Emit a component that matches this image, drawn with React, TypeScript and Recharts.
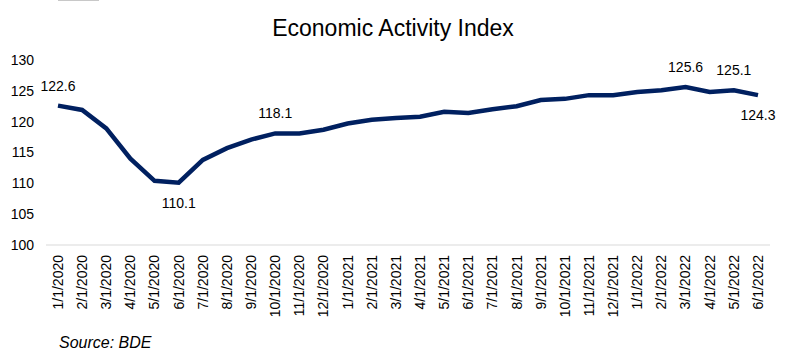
import { LineChart, Line, XAxis, YAxis, LabelList } from 'recharts';

const months = [
  '1/1/2020', '2/1/2020', '3/1/2020', '4/1/2020', '5/1/2020', '6/1/2020',
  '7/1/2020', '8/1/2020', '9/1/2020', '10/1/2020', '11/1/2020', '12/1/2020',
  '1/1/2021', '2/1/2021', '3/1/2021', '4/1/2021', '5/1/2021', '6/1/2021',
  '7/1/2021', '8/1/2021', '9/1/2021', '10/1/2021', '11/1/2021', '12/1/2021',
  '1/1/2022', '2/1/2022', '3/1/2022', '4/1/2022', '5/1/2022', '6/1/2022',
];

const activityIndex = [
  122.6, 121.9, 118.9, 114.0, 110.4, 110.1,
  113.8, 115.7, 117.1, 118.1, 118.1, 118.7,
  119.7, 120.3, 120.6, 120.8, 121.6, 121.4,
  122.0, 122.5, 123.5, 123.7, 124.3, 124.3,
  124.8, 125.1, 125.6, 124.8, 125.1, 124.3,
];

const yTicks = [100, 105, 110, 115, 120, 125, 130];

// which points get a value label, and on which side of the line
const labelAbove = ['1/1/2020', '10/1/2020', '3/1/2022', '5/1/2022'];
const labelBelow = ['6/1/2020', '6/1/2022'];

const data = months.map((month, i) => ({ month, value: activityIndex[i] }));

const FONT = '"Liberation Sans", Arial, sans-serif';

const MonthTick = ({ x, y, payload }: any) => (
  <text
    x={0}
    y={0}
    transform={`translate(${x},${y}) rotate(-90)`}
    textAnchor="end"
    dy="0.35em"
    fontSize={14}
    fontFamily={FONT}
    fill="#000"
  >
    {payload.value}
  </text>
);

const PointLabel = ({ x, y, index, value }: any) => {
  const month = months[index];
  let dy = 0;
  if (labelAbove.includes(month)) dy = -15;
  else if (labelBelow.includes(month)) dy = 25;
  else return null;
  return (
    <text x={x} y={y + dy} textAnchor="middle" fontSize={14} fontFamily={FONT} fill="#000">
      {Number(value).toFixed(1)}
    </text>
  );
};

export default function App() {
  return (
    <div style={{ position: 'absolute', left: 0, top: 0, width: 785, height: 356, background: '#fff' }}>
      <div style={{ position: 'absolute', left: 58, top: 0, width: 41, height: 1, background: '#c8c8c8' }} />
      <LineChart width={785} height={356} data={data} margin={{ top: 60, right: 15, bottom: 0, left: 0 }}>
        <XAxis
          dataKey="month"
          interval={0}
          height={111}
          tick={<MonthTick />}
          tickLine={false}
          tickSize={0}
          tickMargin={10}
          axisLine={{ stroke: '#d9d9d9', strokeWidth: 1 }}
          padding={{ left: 12, right: 12 }}
        />
        <YAxis
          width={46}
          domain={[100, 130]}
          ticks={yTicks}
          interval={0}
          axisLine={false}
          tickLine={false}
          tickSize={0}
          tickMargin={12}
          tick={{ fontSize: 14, fontFamily: FONT, fill: '#000' }}
        />
        <Line
          type="linear"
          dataKey="value"
          stroke="#002060"
          strokeWidth={4.5}
          dot={false}
          isAnimationActive={false}
        >
          <LabelList dataKey="value" content={<PointLabel />} />
        </Line>
      </LineChart>
      <svg width={785} height={356} style={{ position: 'absolute', left: 0, top: 0, pointerEvents: 'none' }}>
        <text x={393} y={36} textAnchor="middle" fontSize={23} fontFamily={FONT} fill="#000">
          Economic Activity Index
        </text>
        <text x={59} y={348} fontSize={16} fontStyle="italic" fontFamily={FONT} fill="#000">
          Source: BDE
        </text>
      </svg>
    </div>
  );
}
